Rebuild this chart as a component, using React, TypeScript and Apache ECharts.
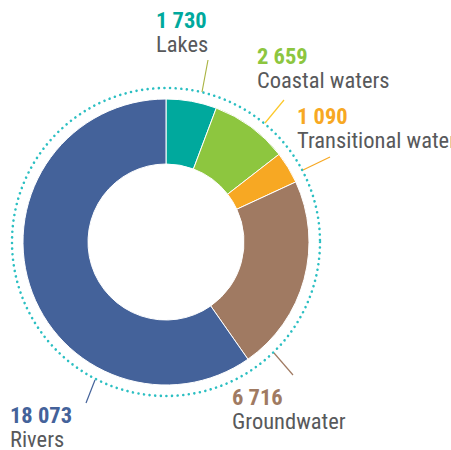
import React, { useEffect, useRef } from "react";
import * as echarts from "echarts";

const categories = ["Lakes", "Coastal waters", "Transitional waters", "Groundwater", "Rivers"];
const values = [1730, 2659, 1090, 6716, 18073];

const sliceColors = ["#00a99d", "#8dc63f", "#f7a823", "#a07a62", "#44629a"];
const lineColors = ["#aab443", "#fcc82a", "#f7a823", "#a07a62", "#44629a"];
// label anchor (left, top) and leader line points
const labelPos: [number, number][] = [
  [156, 8],
  [257, 44],
  [297, 104],
  [232, 385],
  [10, 403],
];
const leaderLines: [number, number][][] = [
  [[202, 92], [208, 60]],
  [[265, 123], [284, 100]],
  [[303, 170], [330, 157]],
  [[274, 353], [293, 375]],
  [[95, 380], [86, 403]],
];

const fmt = (v: number) => String(v).replace(/\B(?=(\d{3})+(?!\d))/g, " ");
const FONT = "'Roboto Condensed', 'Liberation Sans', Arial, sans-serif";

export default function App() {
  const ref = useRef<HTMLDivElement>(null);
  useEffect(() => {
    if (!ref.current) return;
    const chart = echarts.init(ref.current, undefined, { renderer: "svg" });
    const cx = 166;
    const cy = 242;
    chart.setOption({
      animation: false,
      graphic: [
        {
          type: "circle",
          shape: { cx, cy, r: 154 },
          style: {
            fill: "none",
            stroke: "#2bbfc2",
            lineWidth: 2.6,
            lineDash: [0.01, 5.6],
            lineCap: "round",
          },
          silent: true,
          z: 0,
        },
      ],
      series: [
        {
          type: "pie",
          center: [cx, cy],
          radius: [78, 143],
          startAngle: 90,
          clockwise: true,
          avoidLabelOverlap: false,
          itemStyle: { borderColor: "#ffffff", borderWidth: 1 },
          label: {
            show: true,
            position: "outside",
            fontFamily: FONT,
            formatter: (p: any) => `{v${p.dataIndex}|${fmt(p.value)}}\n{n|${p.name}}`,
            rich: {
              ...Object.fromEntries(
                sliceColors.map((c, i) => [
                  `v${i}`,
                  { fontFamily: FONT, fontSize: 22.5, fontWeight: "bold", color: c, lineHeight: 24 },
                ])
              ),
              n: { fontFamily: FONT, fontSize: 22.5, color: "#58595b", lineHeight: 24 },
            },
          },
          labelLine: { show: true, length: 20, length2: 0, lineStyle: { width: 1.2 } },
          labelLayout: (p: any) => ({
            x: labelPos[p.dataIndex][0],
            y: labelPos[p.dataIndex][1],
            align: "left",
            verticalAlign: "top",
            labelLinePoints: leaderLines[p.dataIndex],
          }),
          data: categories.map((name, i) => ({
            name,
            value: values[i],
            itemStyle: { color: sliceColors[i] },
            labelLine: { lineStyle: { color: lineColors[i] } },
          })),
        },
      ],
    });
    return () => chart.dispose();
  }, []);
  return <div ref={ref} style={{ width: 451, height: 450, position: "absolute", left: 0, top: 0 }} />;
}
